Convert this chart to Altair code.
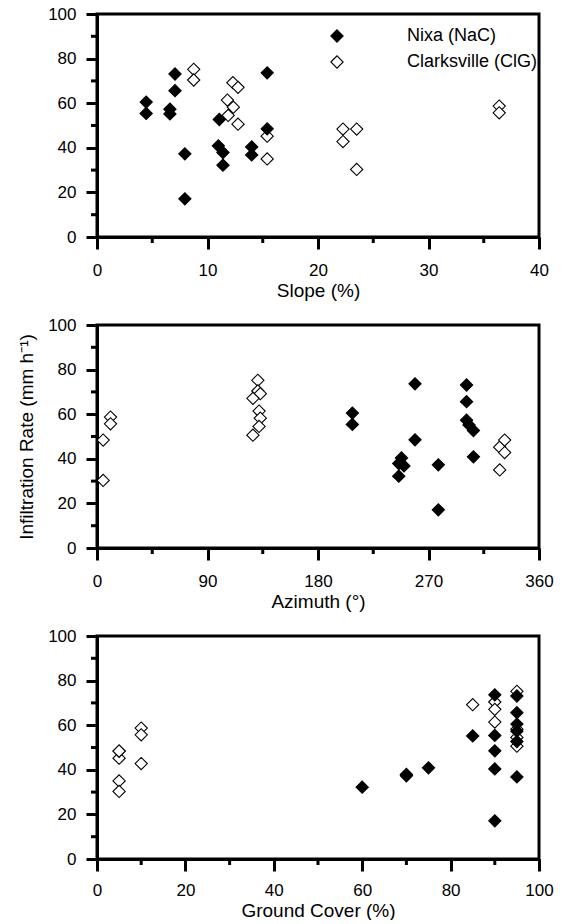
import altair as alt
import pandas as pd

FONT = "Liberation Sans"

soil_names = ["Nixa (NaC)", "Clarksville (ClG)"]
soil_fills = ["#000000", "#ffffff"]

# Nixa (NaC) sites
nixa_slope = [4.45, 4.45, 7.06, 7.06, 6.6, 6.6, 7.95, 7.95, 11.07, 10.98, 11.4, 11.4, 14.0, 14.0, 15.4, 15.4]
nixa_azimuth = [208, 208, 301, 301, 301, 303, 278, 278, 306.6, 306.6, 245.8, 245.8, 248, 250, 259, 259]
nixa_cover = [95, 90, 95, 95, 95, 85, 70, 90, 95, 75, 70, 60, 90, 95, 90, 90]
nixa_rate = [60.5, 55.4, 73.1, 65.6, 57.3, 55.2, 37.3, 17.1, 52.7, 40.9, 37.9, 32.2, 40.4, 36.8, 73.6, 48.5]

# Clarksville (ClG) sites
clark_slope = [8.75, 8.75, 12.3, 12.76, 11.8, 12.34, 11.87, 12.76, 15.4, 15.4, 22.26, 23.5, 22.26, 23.5, 36.4, 36.4]
clark_azimuth = [131, 131, 133, 127, 132, 133, 132, 127, 328, 328, 5, 332, 332, 5, 11, 11]
clark_cover = [95, 90, 85, 90, 90, 95, 95, 95, 5, 5, 5, 5, 10, 5, 10, 10]
clark_rate = [75.2, 70.4, 69.2, 67.1, 61.4, 58.2, 54.5, 50.6, 45.2, 35.0, 48.4, 48.4, 42.8, 30.3, 58.7, 55.7]

# axis ticks (major ticks carry labels, minor ticks do not)
y_major = [0, 20, 40, 60, 80, 100]
y_minor = [10, 30, 50, 70, 90]
slope_major = [0, 10, 20, 30, 40]
slope_minor = [5, 15, 25, 35]
azimuth_major = [0, 90, 180, 270, 360]
azimuth_minor = [45, 135, 225, 315]
cover_major = [0, 20, 40, 60, 80, 100]
cover_minor = [10, 30, 50, 70, 90]

y_title = "Infiltration Rate (mm h⁻¹)"

rows = []
for s, a, c, r in zip(clark_slope, clark_azimuth, clark_cover, clark_rate):
    rows.append({"soil": soil_names[1], "slope": s, "azimuth": a, "cover": c, "rate": r})
for s, a, c, r in zip(nixa_slope, nixa_azimuth, nixa_cover, nixa_rate):
    rows.append({"soil": soil_names[0], "slope": s, "azimuth": a, "cover": c, "rate": r})
df = pd.DataFrame(rows)

H = 223
W = 442
MAJOR = 12
MINOR = 6
LW = 3


def panel(field, title, domain, major, minor, width, legend, title_opacity, lab_pad, tit_pad):
    xs = alt.Scale(domain=domain, nice=False, zero=False)
    ys = alt.Scale(domain=[0, 100], nice=False)
    points = alt.Chart(df).mark_point(
        shape="diamond", filled=True, size=150, stroke="black", strokeWidth=1.1, opacity=1
    ).encode(
        x=alt.X(f"{field}:Q", scale=xs,
                axis=alt.Axis(values=major, tickSize=MAJOR, labelPadding=lab_pad, title=title,
                              titlePadding=tit_pad,
                              domainColor="#000000", tickColor="#000000",
                              domainWidth=LW, tickWidth=LW)),
        y=alt.Y("rate:Q", scale=ys,
                axis=alt.Axis(values=y_major, tickSize=11, labelPadding=10, title=y_title,
                              titleOpacity=title_opacity, titlePadding=11,
                              domainColor="#000000", tickColor="#000000",
                              domainWidth=LW, tickWidth=LW)),
        fill=alt.Fill("soil:N", scale=alt.Scale(domain=soil_names, range=soil_fills), legend=legend),
    )
    xminor = alt.Chart(pd.DataFrame({field: minor})).mark_rule(
        color="#000000", strokeWidth=LW
    ).encode(
        x=alt.X(f"{field}:Q", scale=xs),
        y=alt.value(H),
        y2=alt.value(H + MINOR),
    )
    yminor = alt.Chart(pd.DataFrame({"rate": y_minor})).mark_rule(
        color="#000000", strokeWidth=LW
    ).encode(
        y=alt.Y("rate:Q", scale=ys),
        x=alt.value(0),
        x2=alt.value(-MINOR),
    )
    return alt.layer(points, xminor, yminor).properties(width=width, height=H)


legend = alt.Legend(
    orient="none", legendX=231, legendY=13, title=None, padding=0,
    labelFont=FONT, labelFontSize=18, labelColor="black", labelOffset=61,
    symbolType="diamond", symbolSize=150, symbolStrokeColor="black", symbolStrokeWidth=1.1,
    rowPadding=8,
)

p1 = panel("slope", "Slope (%)", [0, 40], slope_major, slope_minor, W, legend, 0, 13, 3)
p2 = panel("azimuth", "Azimuth (°)", [0, 360], azimuth_major, azimuth_minor, W, None, 1, 13, 3)
p3 = panel("cover", "Ground Cover (%)", [0, 100], cover_major, cover_minor, W, None, 0, 11, 3)

chart = alt.vconcat(p1, p2, p3, spacing=12).resolve_legend(fill="independent").properties(
    padding={"left": 8, "top": -5, "right": 0, "bottom": -2}
).configure(font=FONT).configure_view(
    stroke="#000000", strokeWidth=LW
).configure_axis(
    labelColor="black", titleColor="black", labelFont=FONT, titleFont=FONT,
    labelFontSize=17, titleFontSize=19, titleFontWeight="normal",
    grid=False, labelFlush=False, labelOverlap=False,
)

chart.save("out.html", embed_options={"renderer": "svg", "actions": False})
